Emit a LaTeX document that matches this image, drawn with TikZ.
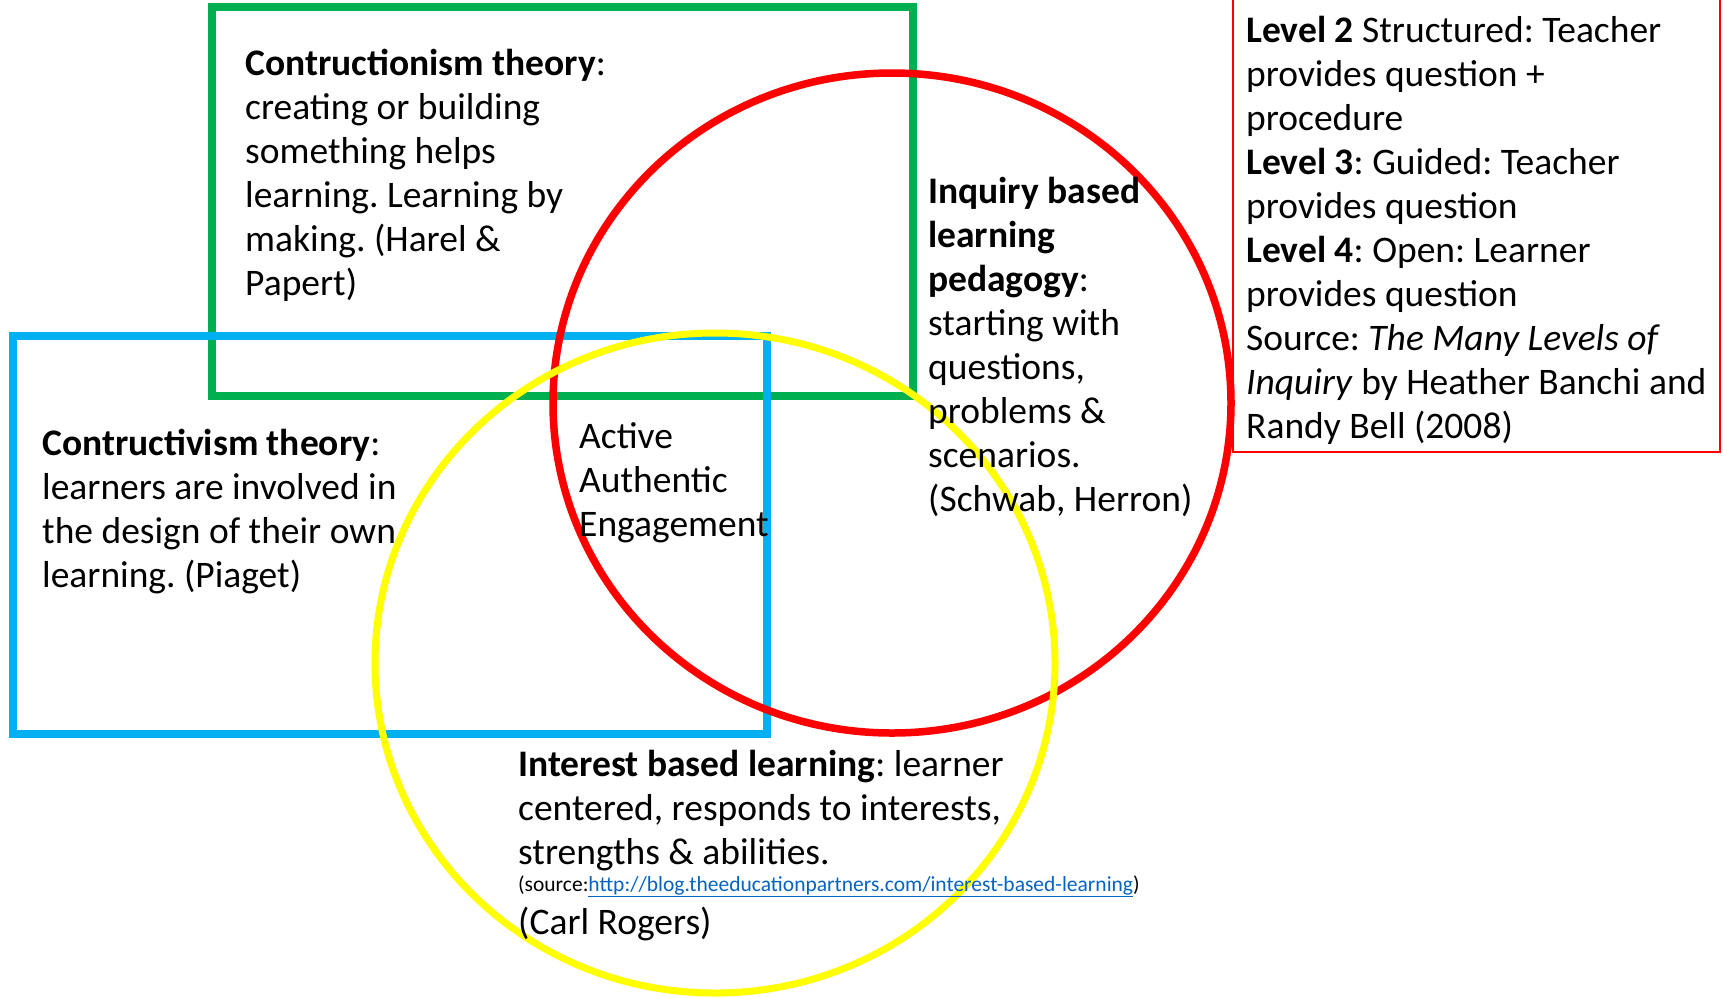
\documentclass[tikz,border=0pt]{standalone}
\usepackage{fontspec}
\setmainfont{Carlito}
\usetikzlibrary{positioning}
\frenchspacing

\definecolor{theorygreen}{HTML}{00B050}
\definecolor{theoryblue}{HTML}{00B0F0}
\definecolor{inquiryred}{HTML}{FF0000}
\definecolor{interestyellow}{HTML}{FFFF00}
\definecolor{linkblue}{HTML}{0563C1}

% multi-line labels sit on the baseline of their last line
\tikzset{
  theorybox/.style={line width=7.5pt},
  bubble/.style={line width=7.5pt},
  label/.style={font=\fontsize{37.5}{44}\selectfont, align=left, anchor=base west, inner sep=0pt},
  smalllabel/.style={font=\fontsize{21.5}{24}\selectfont, anchor=base west, inner sep=0pt}
}

\begin{document}
\begin{tikzpicture}[x=1pt, y=-1pt]
  \useasboundingbox (0,0) rectangle (1723,997);

  % the two theory boxes
  \draw[theorybox, theorygreen] (212,7) rectangle (913,396);
  \draw[theorybox, theoryblue] (13,336) rectangle (767,734);

  % the level box, running off the top
  \draw[inquiryred, line width=1.6pt] (1233,-10) -- (1233,452) -- (1720,452) -- (1720,-10);

  % inquiry and interest circles
  \draw[bubble, inquiryred] (892,403) ellipse [x radius=339, y radius=330];
  \draw[bubble, interestyellow, line width=7pt] (715,663) ellipse [x radius=340, y radius=330];

  \node[label] (construct) at (245,295) {\textbf{Contructionism theory}:\\
    creating or building\\ something helps\\ learning. Learning by\\
    making. (Harel \&\\ Papert)};

  \node[label] (inquiry) at (928,511) {\textbf{Inquiry based}\\ \textbf{learning}\\
    \textbf{pedagogy}:\\ starting with\\ questions,\\ problems \&\\
    scenarios.\\ (Schwab, Herron)};

  \node[label] (constructiv) at (42,587) {\textbf{Contructivism theory}:\\
    learners are involved in\\ the design of their own\\ learning. (Piaget)};

  \node[label] (active) at (579,536) {Active\\ Authentic\\ Engagement};

  \node[label] (interest) at (518,864) {\textbf{Interest based learning}: learner\\
    centered, responds to interests,\\ strengths \& abilities.};
  \node[smalllabel] (source) at (518,891)
    {(source:\textcolor{linkblue}{\underline{http://blog.theeducationpartners.com/interest-based-learning}})};
  \node[label] (rogers) at (518,934) {(Carl Rogers)};

  \node[label] (levels) at (1246,438) {\textbf{Level 2} Structured: Teacher\\
    provides question +\\ procedure\\ \textbf{Level 3}: Guided: Teacher\\
    provides question\\ \textbf{Level 4}: Open: Learner\\ provides question\\
    Source: \textit{The Many Levels of}\\ \textit{Inquiry} by Heather Banchi and\\
    Randy Bell (2008)};
\end{tikzpicture}
\end{document}
